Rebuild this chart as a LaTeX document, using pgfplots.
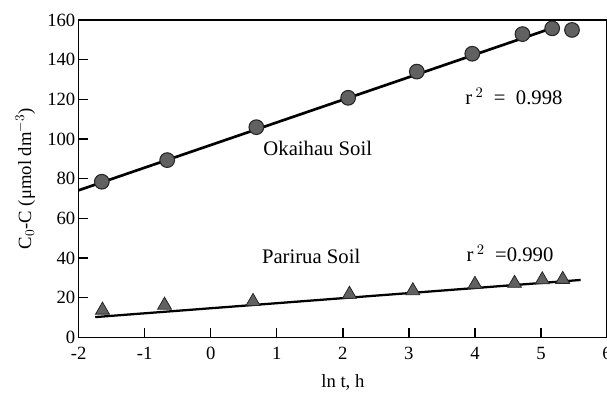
\documentclass[border=0pt]{standalone}
\usepackage{pgfplots}
\pgfplotsset{compat=1.18}
\usepackage{fontspec}
\setmainfont{Liberation Serif}

% Okaihau soil: measurements
\pgfplotstableread{
x y
-1.65 78.5
-0.66 89.4
0.69 106.0
2.08 120.8
3.12 134.0
3.96 143.0
4.72 152.9
5.17 155.8
5.47 155.0
}\okaihau

% Parirua soil: measurements
\pgfplotstableread{
x y
-1.64 13.8
-0.70 16.3
0.64 18.2
2.10 21.8
3.06 23.6
4.00 26.8
4.60 27.3
5.02 29.1
5.33 29.3
}\parirua

\begin{document}
\begin{tikzpicture}[trim axis right, font=\fontsize{14}{16}\selectfont]
\begin{axis}[
  scale only axis,
  width=396pt, height=238pt,
  xmin=-2, xmax=6, ymin=0, ymax=160,
  xtick={-2,-1,0,1,2,3,4,5,6},
  ytick={0,20,40,60,80,100,120,140,160},
  tick align=inside,
  major tick length=7pt,
  tick style={line width=1pt, black},
  xtick pos=bottom, ytick pos=left,
  axis line style={line width=1.1pt},
  /pgf/number format/assume math mode=true,
  ticklabel style={font=\fontsize{14}{16}\selectfont},
  xticklabel style={yshift=-4pt},
  yticklabel style={xshift=1pt},
  xlabel={ln t, h},
  ylabel={C$_0$-C (μmol dm$^{-3}$)},
  xlabel style={at={([yshift=-34pt]axis description cs:0.5,0)}, anchor=center},
  ylabel style={at={([xshift=-40pt]axis description cs:0,0.5)}, anchor=center},
  clip=false,
]
% room around the frame
\path (axis description cs:0,0) ++(-59pt,-43pt);
\path (axis description cs:0,1) ++(0,15pt);
% fitted lines
\addplot[black, line width=2pt] coordinates {(-2,74.2) (5.15,155.7)};
\addplot[black, line width=1.7pt] coordinates {(-1.75,10.3) (5.6,29.0)};
% measured points
\addplot[only marks, mark=*, mark size=5.5pt,
  mark options={fill=black!62, draw=black!85, line width=0.8pt}]
  table[x=x, y=y] {\okaihau};
\addplot[only marks, mark=triangle*, mark size=6pt,
  mark options={fill=black!62, draw=black!85, line width=0.6pt}]
  table[x=x, y=y] {\parirua};
% annotations
\begin{scope}[font=\fontsize{15.5}{17}\selectfont]
\node at (axis cs:1.62,95.4) {Okaihau Soil};
\node at (axis cs:4.59,121.5) {r\,$^{2}$\ \ = \ 0.998};
\node at (axis cs:1.52,41) {Parirua Soil};
\node at (axis cs:4.53,42.2) {r\,$^{2}$\ \ =0.990};
\end{scope}
\end{axis}
\end{tikzpicture}
\end{document}
